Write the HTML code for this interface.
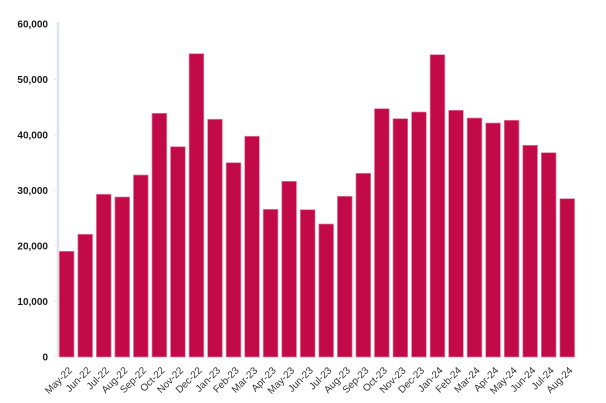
<!DOCTYPE html>
<html><head><meta charset="utf-8"><style>
html,body{margin:0;padding:0;background:#fff;}
svg{display:block;}
.yl{font-family:"Liberation Sans",sans-serif;font-size:10px;font-weight:bold;fill:#1a1a1a;}
.xl{font-family:"Liberation Sans",sans-serif;font-size:10px;fill:#333;}
.b{fill:#C10A47;stroke:#E6829F;stroke-width:0.7;}
</style></head><body>
<svg width="606" height="403" viewBox="0 0 606 403" xmlns="http://www.w3.org/2000/svg">
<rect width="606" height="403" fill="#fff"/>
<!-- y axis -->
<line x1="58" y1="22" x2="58" y2="357" stroke="#DDE4EA" stroke-width="2.5"/>
<g stroke="#E3E7EA" stroke-width="1">
<line x1="54" y1="24" x2="57" y2="24"/>
<line x1="54" y1="79.5" x2="57" y2="79.5"/>
<line x1="54" y1="135" x2="57" y2="135"/>
<line x1="54" y1="190.5" x2="57" y2="190.5"/>
<line x1="54" y1="246" x2="57" y2="246"/>
<line x1="54" y1="301.5" x2="57" y2="301.5"/>
<line x1="54" y1="357" x2="57" y2="357"/>
</g>
<g class="yl" text-anchor="end">
<text x="48" y="27.5">60,000</text>
<text x="48" y="83">50,000</text>
<text x="48" y="138.5">40,000</text>
<text x="48" y="194">30,000</text>
<text x="48" y="249.5">20,000</text>
<text x="48" y="305">10,000</text>
<text x="48" y="360.5">0</text>
</g>
<!-- bars -->
<g>
<rect class="b" x="59.3" y="251.3" width="14.7" height="105.7"/>
<rect class="b" x="77.84" y="234.3" width="14.7" height="122.7"/>
<rect class="b" x="96.38" y="194.3" width="14.7" height="162.7"/>
<rect class="b" x="114.92" y="197" width="14.7" height="160"/>
<rect class="b" x="133.46" y="175" width="14.7" height="182"/>
<rect class="b" x="152" y="113.3" width="14.7" height="243.7"/>
<rect class="b" x="170.54" y="146.7" width="14.7" height="210.3"/>
<rect class="b" x="189.08" y="53.7" width="14.7" height="303.3"/>
<rect class="b" x="207.62" y="119.3" width="14.7" height="237.7"/>
<rect class="b" x="226.16" y="162.7" width="14.7" height="194.3"/>
<rect class="b" x="244.7" y="136.3" width="14.7" height="220.7"/>
<rect class="b" x="263.24" y="209.3" width="14.7" height="147.7"/>
<rect class="b" x="281.78" y="181.3" width="14.7" height="175.7"/>
<rect class="b" x="300.32" y="209.7" width="14.7" height="147.3"/>
<rect class="b" x="318.86" y="224" width="14.7" height="133"/>
<rect class="b" x="337.4" y="196.3" width="14.7" height="160.7"/>
<rect class="b" x="355.94" y="173.3" width="14.7" height="183.7"/>
<rect class="b" x="374.48" y="108.7" width="14.7" height="248.3"/>
<rect class="b" x="393.02" y="118.7" width="14.7" height="238.3"/>
<rect class="b" x="411.56" y="112" width="14.7" height="245"/>
<rect class="b" x="430.1" y="54.7" width="14.7" height="302.3"/>
<rect class="b" x="448.64" y="110.3" width="14.7" height="246.7"/>
<rect class="b" x="467.18" y="118" width="14.7" height="239"/>
<rect class="b" x="485.72" y="123" width="14.7" height="234"/>
<rect class="b" x="504.26" y="120.3" width="14.7" height="236.7"/>
<rect class="b" x="522.8" y="145.3" width="14.7" height="211.7"/>
<rect class="b" x="541.34" y="152.7" width="14.7" height="204.3"/>
<rect class="b" x="559.88" y="198.7" width="14.7" height="158.3"/>
</g>
<!-- x labels -->
<g class="xl" text-anchor="end">
<text transform="translate(72.65,371) rotate(-45)">May-22</text>
<text transform="translate(91.19,371) rotate(-45)">Jun-22</text>
<text transform="translate(109.73,371) rotate(-45)">Jul-22</text>
<text transform="translate(128.27,371) rotate(-45)">Aug-22</text>
<text transform="translate(146.81,371) rotate(-45)">Sep-22</text>
<text transform="translate(165.35,371) rotate(-45)">Oct-22</text>
<text transform="translate(183.89,371) rotate(-45)">Nov-22</text>
<text transform="translate(202.43,371) rotate(-45)">Dec-22</text>
<text transform="translate(220.97,371) rotate(-45)">Jan-23</text>
<text transform="translate(239.51,371) rotate(-45)">Feb-23</text>
<text transform="translate(258.05,371) rotate(-45)">Mar-23</text>
<text transform="translate(276.59,371) rotate(-45)">Apr-23</text>
<text transform="translate(295.13,371) rotate(-45)">May-23</text>
<text transform="translate(313.67,371) rotate(-45)">Jun-23</text>
<text transform="translate(332.21,371) rotate(-45)">Jul-23</text>
<text transform="translate(350.75,371) rotate(-45)">Aug-23</text>
<text transform="translate(369.29,371) rotate(-45)">Sep-23</text>
<text transform="translate(387.83,371) rotate(-45)">Oct-23</text>
<text transform="translate(406.37,371) rotate(-45)">Nov-23</text>
<text transform="translate(424.91,371) rotate(-45)">Dec-23</text>
<text transform="translate(443.45,371) rotate(-45)">Jan-24</text>
<text transform="translate(461.99,371) rotate(-45)">Feb-24</text>
<text transform="translate(480.53,371) rotate(-45)">Mar-24</text>
<text transform="translate(499.07,371) rotate(-45)">Apr-24</text>
<text transform="translate(517.61,371) rotate(-45)">May-24</text>
<text transform="translate(536.15,371) rotate(-45)">Jun-24</text>
<text transform="translate(554.69,371) rotate(-45)">Jul-24</text>
<text transform="translate(573.23,371) rotate(-45)">Aug-24</text>
</g>
</svg>
</body></html>
